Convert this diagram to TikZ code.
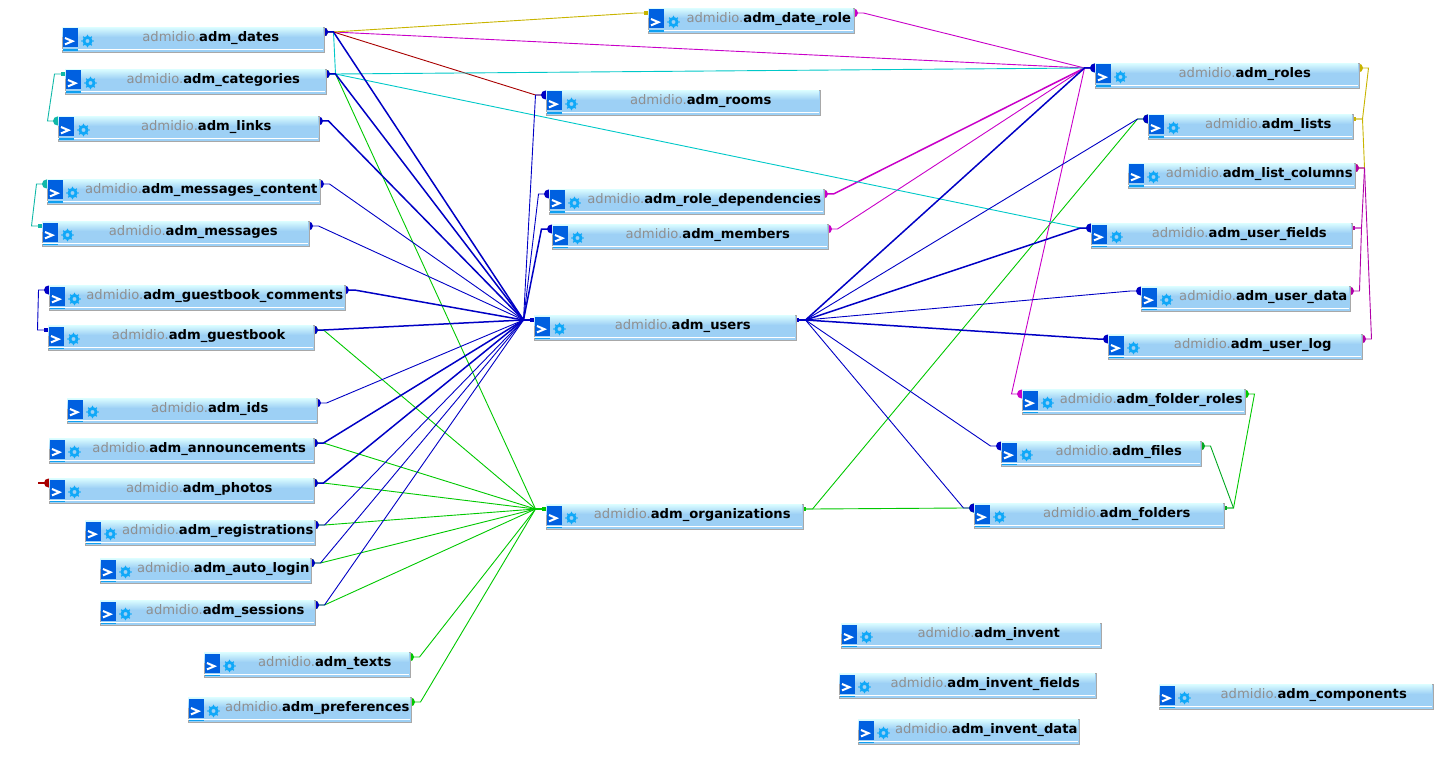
\documentclass[tikz,border=0pt]{standalone}
\usepackage{fontspec}
\setmainfont{DejaVu Sans}
\pgfdeclarelayer{bg}
\pgfsetlayers{bg,main}
\definecolor{cblue}{HTML}{0000C4}
\definecolor{cgreen}{HTML}{00C800}
\definecolor{cmag}{HTML}{C800C8}
\definecolor{ccyan}{HTML}{00C8C8}
\definecolor{cteal}{HTML}{10B8A8}
\definecolor{colive}{HTML}{C8B400}
\definecolor{cred}{HTML}{A80000}
\definecolor{cpurple}{HTML}{B000A8}
\definecolor{cdgreen}{HTML}{00A820}
\definecolor{boxfill}{HTML}{9DD0F5}
\definecolor{boxtop}{HTML}{D8FBFF}
\definecolor{boxedge}{HTML}{A8A8A8}
\definecolor{iconblue}{HTML}{0060E0}
\definecolor{gearblue}{HTML}{10A8F8}
\definecolor{stripblue}{HTML}{10A0F0}
\definecolor{prefixgray}{HTML}{8F8F8F}
\tikzset{
  tbox/.style={draw=boxedge,fill=boxfill,line width=1pt,inner sep=0pt,minimum height=25pt,anchor=north west},
  tlabel/.style={inner sep=0pt,font=\fontsize{13.15}{13.15}\selectfont,anchor=center},
  lnk/.style={line width=0.9pt},
  lnkb/.style={line width=1.5pt},
}
\def\offr{10pt}
\def\offl{-10pt}
\def\sgnr{1}
\def\sgnl{-1}
% \tbl{id}{x1}{y1}{x2}{table name}
\newcommand{\tbl}[5]{%
  \pgfmathsetmacro{\boxw}{#4-#2}%
  \pgfmathsetmacro{\textx}{(#2+36.5+#4)/2}%
  \node[tbox,minimum width=\boxw pt] (#1) at (#2,#3) {};
  \shade[top color=boxtop,bottom color=boxfill] (#2+0.6,#3+0.6) rectangle (#4-0.6,#3+10);
  \fill[white] (#2+0.6,#3+22.2) rectangle (#4-0.6,#3+23.4);
  \fill[iconblue] (#2+1,#3+1.5) rectangle (#2+16,#3+20.5);
  \fill[stripblue] (#2+1,#3+22.5) rectangle (#2+16,#3+24);
  \draw[white,line width=2pt,line join=miter] (#2+3.5,#3+11) -- (#2+11,#3+14.2) -- (#2+3.5,#3+17.4);
  \draw[gearblue,line width=2.8pt,fill=boxfill] (#2+26,#3+14) circle (3.6pt);
  \foreach \a in {0,45,...,315} \fill[gearblue] (#2+26,#3+14) ++(\a:-5.6) circle (0.8pt);
  \node[tlabel] (#1-t) at (\textx,#3+11.2) {\textcolor{prefixgray}{admidio.}\textbf{#5}};
  \coordinate (#1-l) at (#2,#3+5);
  \coordinate (#1-r) at (#4,#3+5);
}
% \lk{colour}{child}{side}{parent}{side}: big dot at the child end, small one at the parent end
\newcommand{\lk}[5]{%
  \draw[lnk,color=#1] (#2-#3) -- ([xshift=\csname off#3\endcsname]#2-#3) -- ([xshift=\csname off#5\endcsname]#4-#5) -- (#4-#5);
  \fill[#1] (#2-#3) circle (4.5pt);
  \fill[#1] ([yshift=-2pt]#4-#5) rectangle ([xshift=3.5*\csname sgn#5\endcsname pt,yshift=2pt]#4-#5);
}
\newcommand{\lkb}[5]{%
  \draw[lnkb,color=#1] (#2-#3) -- ([xshift=\csname off#3\endcsname]#2-#3) -- ([xshift=\csname off#5\endcsname]#4-#5) -- (#4-#5);
  \fill[#1] (#2-#3) circle (4.5pt);
  \fill[#1] ([yshift=-2pt]#4-#5) rectangle ([xshift=3.5*\csname sgn#5\endcsname pt,yshift=2pt]#4-#5);
}
\begin{document}
\begin{tikzpicture}[x=1pt,y=-1pt]
\useasboundingbox (0.5,0) rectangle (1445.5,762);
\tbl{dates}{62}{27}{324}{adm\_dates}
\tbl{cats}{65}{69}{326}{adm\_categories}
\tbl{links}{58}{116}{319}{adm\_links}
\tbl{mcont}{47}{179}{320}{adm\_messages\_content}
\tbl{msgs}{42}{221}{309}{adm\_messages}
\tbl{gbc}{49}{285}{345}{adm\_guestbook\_comments}
\tbl{gb}{48}{325}{314}{adm\_guestbook}
\tbl{ids}{67}{398}{317}{adm\_ids}
\tbl{ann}{49}{438}{314}{adm\_announcements}
\tbl{photos}{49}{478}{314}{adm\_photos}
\tbl{reg}{85}{520}{315}{adm\_registrations}
\tbl{auto}{100}{558}{311}{adm\_auto\_login}
\tbl{sess}{100}{600}{315}{adm\_sessions}
\tbl{texts}{204}{652}{410}{adm\_texts}
\tbl{prefs}{188}{697}{411}{adm\_preferences}
\tbl{drole}{648}{8}{854}{adm\_date\_role}
\tbl{rooms}{546}{90}{820}{adm\_rooms}
\tbl{rdep}{549}{189}{824}{adm\_role\_dependencies}
\tbl{memb}{552}{224}{828}{adm\_members}
\tbl{users}{534}{315}{796}{adm\_users}
\tbl{orgs}{546}{504}{803}{adm\_organizations}
\tbl{roles}{1095}{63}{1359}{adm\_roles}
\tbl{lists}{1148}{114}{1353}{adm\_lists}
\tbl{lcols}{1128}{163}{1355}{adm\_list\_columns}
\tbl{ufields}{1091}{223}{1352}{adm\_user\_fields}
\tbl{udata}{1141}{286}{1350}{adm\_user\_data}
\tbl{ulog}{1108}{334}{1362}{adm\_user\_log}
\tbl{froles}{1022}{389}{1245}{adm\_folder\_roles}
\tbl{files}{1001}{441}{1201}{adm\_files}
\tbl{folders}{974}{503}{1224}{adm\_folders}
\tbl{inv}{841}{623}{1101}{adm\_invent}
\tbl{invf}{839}{673}{1096}{adm\_invent\_fields}
\tbl{invd}{858}{719}{1079}{adm\_invent\_data}
\tbl{comp}{1159}{684}{1433}{adm\_components}
\coordinate (pfree) at (38,483);
\begin{pgfonlayer}{bg}
% adm_organizations
\lk{cgreen}{cats}{r}{orgs}{l}
\lk{cgreen}{gb}{r}{orgs}{l}
\lk{cgreen}{ann}{r}{orgs}{l}
\lk{cgreen}{photos}{r}{orgs}{l}
\lk{cgreen}{reg}{r}{orgs}{l}
\lk{cgreen}{auto}{r}{orgs}{l}
\lk{cgreen}{sess}{r}{orgs}{l}
\lk{cgreen}{texts}{r}{orgs}{l}
\lk{cgreen}{prefs}{r}{orgs}{l}
\lk{cgreen}{lists}{l}{orgs}{r}
\lk{cgreen}{folders}{l}{orgs}{r}
% adm_roles
\lk{cmag}{drole}{r}{roles}{l}
\lk{cmag}{dates}{r}{roles}{l}
\lkb{cmag}{rdep}{r}{roles}{l}
\lk{cmag}{memb}{r}{roles}{l}
\lk{cmag}{froles}{l}{roles}{l}
% others
\lk{colive}{dates}{r}{drole}{l}
\lk{cred}{dates}{r}{rooms}{l}
\lk{ccyan}{dates}{r}{cats}{r}
\lk{ccyan}{roles}{l}{cats}{r}
\lk{ccyan}{ufields}{l}{cats}{r}
\lk{cteal}{links}{l}{cats}{l}
\lk{cteal}{mcont}{l}{msgs}{l}
\lk{cblue}{gbc}{l}{gb}{l}
\draw[lnkb,color=cred] (photos-l) -- (pfree);
\fill[cred] (photos-l) circle (4.5pt);
\lk{colive}{roles}{r}{lists}{r}
\lk{colive}{lcols}{r}{lists}{r}
\lk{cpurple}{lcols}{r}{ufields}{r}
\lk{cpurple}{udata}{r}{ufields}{r}
\lk{cpurple}{ulog}{r}{lcols}{r}
\lk{cgreen}{froles}{r}{folders}{r}
\lk{cdgreen}{files}{r}{folders}{r}
% to adm_users, left
\lkb{cblue}{dates}{r}{users}{l}
\lkb{cblue}{cats}{r}{users}{l}
\lkb{cblue}{links}{r}{users}{l}
\lk{cblue}{mcont}{r}{users}{l}
\lk{cblue}{msgs}{r}{users}{l}
\lkb{cblue}{gbc}{r}{users}{l}
\lkb{cblue}{gb}{r}{users}{l}
\lk{cblue}{ids}{r}{users}{l}
\lkb{cblue}{ann}{r}{users}{l}
\lkb{cblue}{photos}{r}{users}{l}
\lk{cblue}{reg}{r}{users}{l}
\lk{cblue}{auto}{r}{users}{l}
\lk{cblue}{sess}{r}{users}{l}
\lk{cblue}{rooms}{l}{users}{l}
\lk{cblue}{rdep}{l}{users}{l}
\lkb{cblue}{memb}{l}{users}{l}
% from adm_users, right
\lkb{cblue}{roles}{l}{users}{r}
\lk{cblue}{lists}{l}{users}{r}
\lkb{cblue}{ufields}{l}{users}{r}
\lk{cblue}{udata}{l}{users}{r}
\lkb{cblue}{ulog}{l}{users}{r}
\lk{cblue}{files}{l}{users}{r}
\lk{cblue}{folders}{l}{users}{r}
\end{pgfonlayer}
\end{tikzpicture}
\end{document}
